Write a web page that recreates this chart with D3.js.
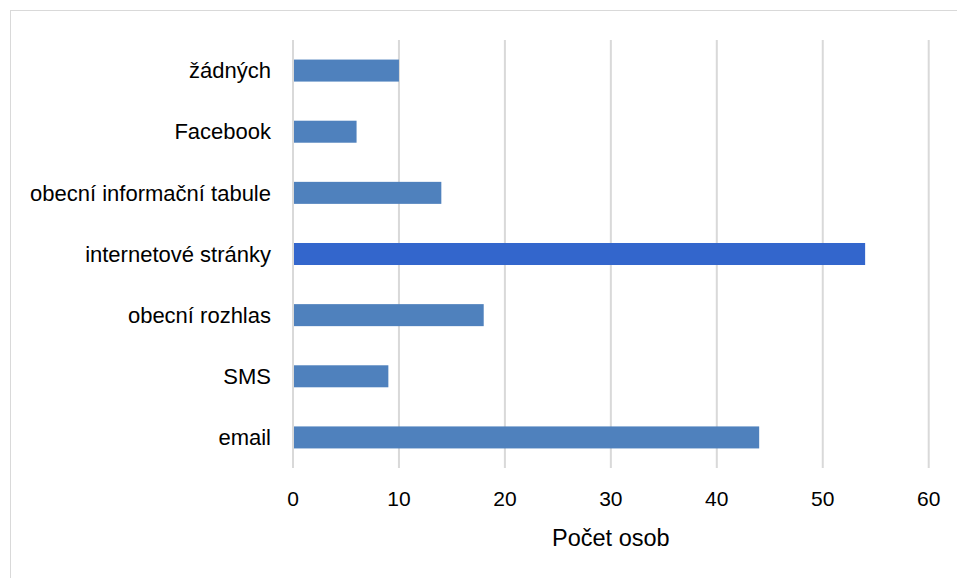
<!DOCTYPE html>
<html><head><meta charset="utf-8">
<script src="https://cdn.jsdelivr.net/npm/d3@7"></script>
<style>body{margin:0;background:#fff}svg{display:block}text{font-family:"Liberation Sans",Arial,sans-serif;fill:#000}</style>
</head><body><svg id="c" width="957" height="578"></svg>
<script>
const categories = ["žádných","Facebook","obecní informační tabule","internetové stránky","obecní rozhlas","SMS","email"];
const values = [10,6,14,54,18,9,44];
const highlighted = ["internetové stránky"];
const xTicks = [0,10,20,30,40,50,60];
const xTitle = "Počet osob";

const svg = d3.select("#c");
const m = {l:293, r:957-928.7, t:40, b:578-468};
const W = 957, H = 578;
svg.append("rect").attr("x",10.5).attr("y",10.5).attr("width",W).attr("height",H).attr("fill","#fff").attr("stroke","#d9d9d9");

const x = d3.scaleLinear().domain([0,60]).range([m.l, W-m.r]);
const y = d3.scaleBand().domain(categories).range([m.t, H-m.b]).paddingInner(0.64).paddingOuter(0.32);

svg.append("g").selectAll("line").data(xTicks).join("line")
  .attr("x1",d=>x(d)).attr("x2",d=>x(d)).attr("y1",m.t).attr("y2",H-m.b)
  .attr("stroke","#d9d9d9").attr("stroke-width",2);

svg.append("g").selectAll("rect").data(categories).join("rect")
  .attr("x",x(0)+1).attr("y",d=>y(d)).attr("height",y.bandwidth())
  .attr("width",(d,i)=>x(values[i])-x(0)-1)
  .attr("fill",d=>highlighted.includes(d)?"#3366CC":"#4F81BD");

svg.append("g").selectAll("text").data(categories).join("text")
  .attr("x",271).attr("y",d=>y(d)+y.bandwidth()/2).attr("dy","0.35em")
  .attr("text-anchor","end").attr("font-size",22).text(d=>d);

svg.append("g").selectAll("text").data(xTicks).join("text")
  .attr("x",d=>x(d)).attr("y",499).attr("dy","0.35em")
  .attr("text-anchor","middle").attr("font-size",21).text(d=>d);

svg.append("text").attr("x",(x(0)+x(60))/2).attr("y",538).attr("dy","0.35em")
  .attr("text-anchor","middle").attr("font-size",23.5).text(xTitle);
</script></body></html>
